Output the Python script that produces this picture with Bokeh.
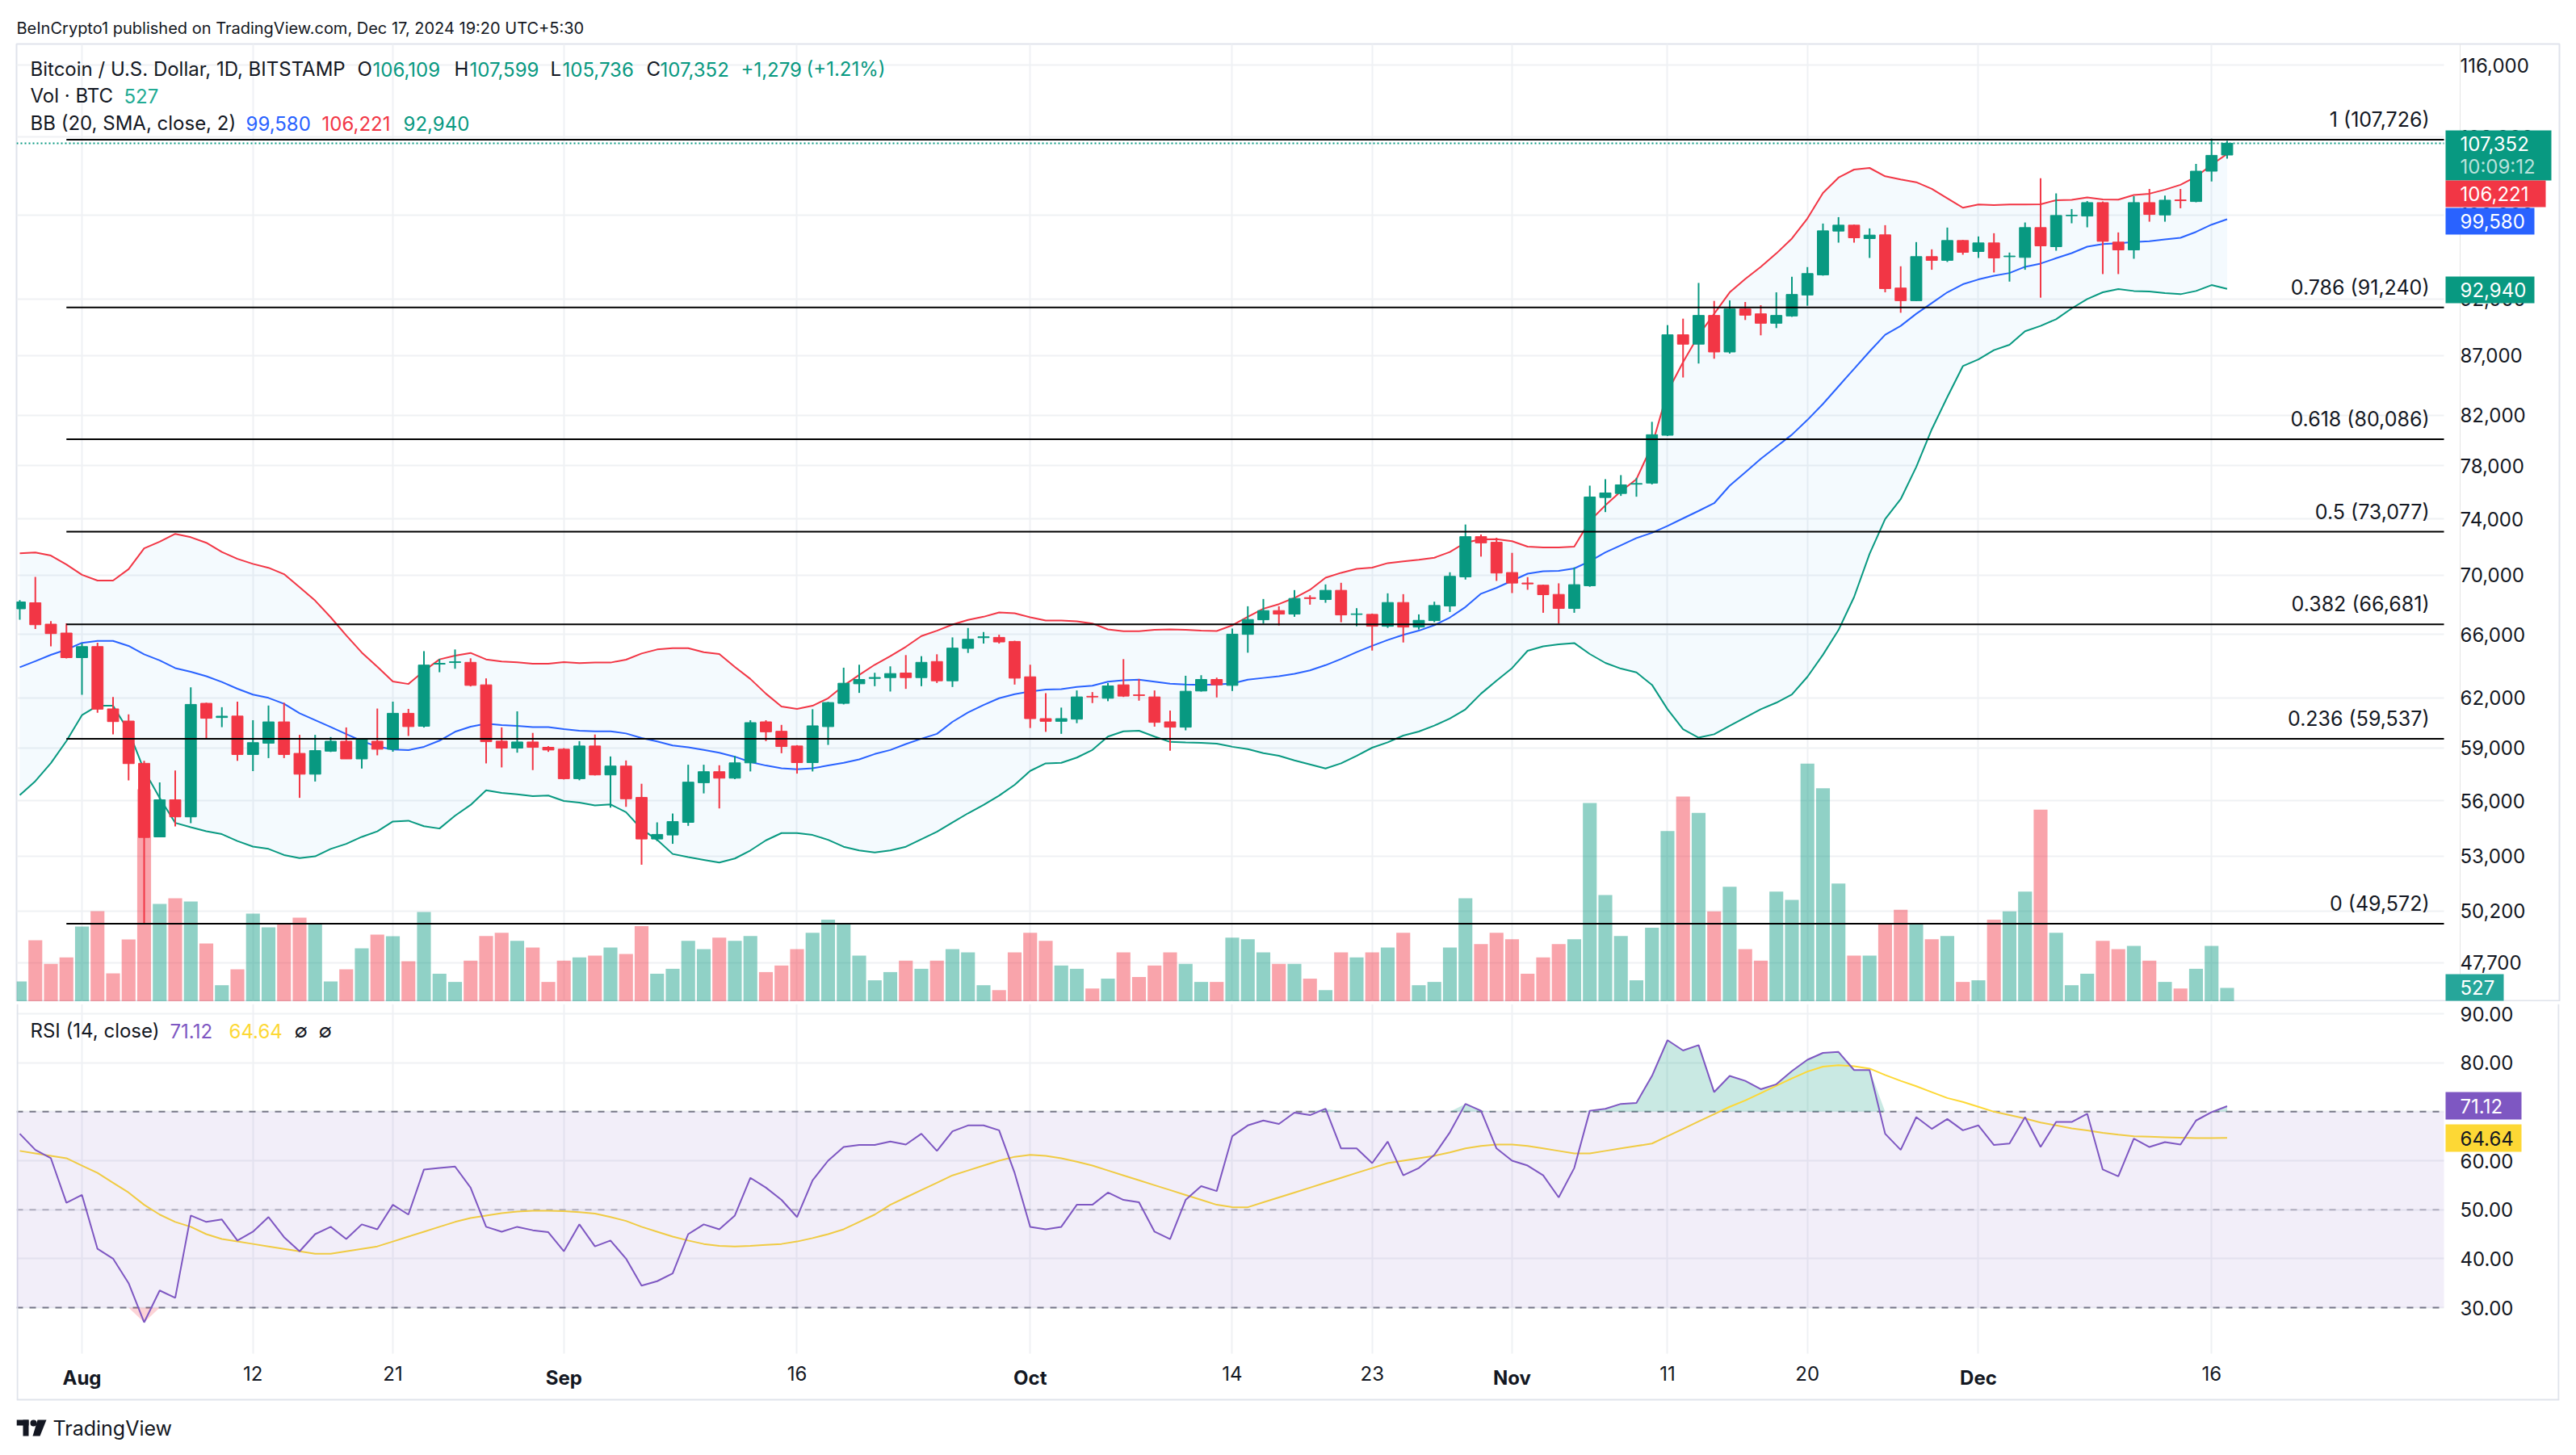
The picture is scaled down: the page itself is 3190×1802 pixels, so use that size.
import numpy as np
import pandas as pd
from bokeh.plotting import figure
from bokeh.layouts import column
from bokeh.models import (Range1d, LinearScale, FixedTicker, NumeralTickFormatter, DatetimeAxis,
                          BoxAnnotation, Grid, ColumnDataSource, CustomJSTickFormatter)
from bokeh.embed import file_html
from bokeh.resources import INLINE
from bokeh.core.properties import value

# ---------------- data ----------------
dates = pd.date_range("2024-07-28", "2024-12-17", freq="D")

open_ = [67710,68115,66687,66104,64514,65224,61322,60588,58104,54023,56044,55104,61661,60800,60888,58615,59274,60538,58679,57484,58808,59389,58358,59389,58922,61055,60280,
         64100,64200,64215,62800,59394,58987,59345,59034,58924,57228,59111,57442,57947,56175,53911,54126,54806,57001,57625,57258,58132,60541,59977,59111,58147,60254,
         61660,62865,63200,63250,63539,63250,64266,63049,65108,65800,65820,65558,63301,60734,60573,60702,62090,61971,62799,62180,62053,60541,60222,62418,63134,62766,
         66018,66978,67589,67355,68460,68333,68958,67330,67336,66549,68133,66496,66924,67897,69885,72722,72317,70185,69460,69309,68680,67733,69272,75596,75899,76600,
         76683,80402,88810,87989,90527,87312,91108,90672,89832,90479,92376,94237,98412,98990,97682,98046,93017,91862,95957,95600,
         97500,96444,97267,95950,95881,98754,96906,99920,99889,101227,97345,96598,101227,99996,101496,101334,104425,106109]
high_ = [68300,69880,66887,66741,65439,65475,62049,60986,58248,57020,57691,62649,61700,61425,61763,60638,61526,61695,59766,59766,59635,60206,59504,61342,61763,61322,64930,
         64437,65038,64471,63202,60209,61172,59881,59100,58987,59394,59786,58502,58269,56941,54806,55288,58024,58024,57993,58533,60638,60638,60358,59159,61301,61750,
         63875,64062,63555,63959,64677,64608,64728,65820,66434,66170,65994,65600,64062,62285,61401,62452,62352,62916,64419,63167,62452,61221,63367,63401,63250,66398,
         67879,68370,67879,68976,68626,69364,69475,67751,67390,68754,68699,67336,68188,70203,73602,72877,72645,71566,69866,69346,69439,70541,76490,76981,77290,77084,
         81478,89665,90239,93488,91838,91886,91740,91448,92623,94061,94967,99148,99782,99050,98675,98990,95042,97345,96649,98754,
         97550,97891,98203,96341,99254,103706,102146,100582,101388,101334,98282,101874,102609,101928,102609,105178,107840,107599]
low_ = [66980,66376,65242,64461,62186,61087,59799,57130,49572,54000,54584,54760,59520,60222,58248,57659,58406,58406,56152,57068,58759,58358,57804,58567,58775,59700,60200,
        63589,63808,62700,58101,57870,58721,57717,58768,57183,57138,57411,55611,55656,52555,53797,53654,54616,56400,55567,57200,57640,59394,58690,57518,57640,59174,
        61594,62302,62716,62385,62549,62716,62916,62666,64814,65419,65419,62816,60172,59945,59826,60461,61677,61791,62050,61824,60254,58835,60032,62380,62020,62418,
        64830,66728,66603,67175,67987,68115,66814,66549,64968,66443,65490,66336,66814,67498,69698,71299,69605,68772,68995,67444,66728,67444,69200,74513,75718,75657,
        76580,80338,85134,86319,86732,87173,90119,88763,89403,90400,91399,94162,97293,97293,95830,92623,90768,91813,94715,95448,
        96136,95830,94463,93612,94715,92132,96520,99174,98779,94312,94312,95754,99332,99332,100662,101253,103376,105736]
close_ = [68170,66650,66068,64514,65224,61305,60555,58088,53994,56044,55104,61594,60755,60880,58615,59307,60538,58615,57484,58840,59389,58358,59504,58922,61055,60256,64040,
          64150,64250,62766,59363,58987,59345,59034,58877,57228,59111,57442,57947,56101,53911,54155,54850,57031,57625,57258,58132,60493,59945,59080,58147,60301,61709,
          62899,63134,63260,63504,63250,64215,63049,65125,65697,65860,65523,63217,60734,60573,60734,62053,62050,62732,62103,62140,60510,60222,62401,63134,62799,66030,
          66995,67589,67355,68407,68400,68958,67300,67370,66549,68133,66496,66942,67933,69922,72722,72277,70148,69457,69400,68662,67733,69346,75636,75939,76550,76650,
          80445,88810,87989,90527,87312,91108,90551,89832,90527,92426,94361,98438,98990,97760,98021,92968,91862,95957,95600,97500,
          96366,97267,95830,96010,98754,96984,99942,99969,101227,97422,96598,101227,100048,101469,101420,104425,106073,107352]
volume_ = [775,2356,1450,1700,2883,3472,1085,2387,8153,3751,3968,3844,2232,630,1240,3379,2852,3007,3224,2976,775,1240,2046,2573,2511,1550,3441,
           1071,756,1575,2520,2646,2331,2079,756,1575,1701,1764,2079,1827,2898,1071,1260,2331,2016,2457,2331,2520,1134,1386,2016,2646,3150,
           3024,1764,819,1134,1575,1260,1575,2016,1890,630,441,1890,2646,2331,1386,1260,504,882,1890,945,1386,1890,1449,756,756,2457,
           2394,1890,1449,1449,882,441,1890,1701,1890,2079,2646,630,756,2079,3969,2205,2646,2394,1071,1701,2205,2394,7623,4095,2520,819,
           2835,6552,7875,7245,3465,4410,2016,1575,4221,3906,9135,8190,4536,1764,1764,2961,3528,2961,2394,2520,
           756,819,3150,3465,4221,7371,2646,630,1071,2331,2016,2142,1575,756,504,1260,2142,527]
bb_upper = [71540,71591,71374,70749,70031,69629,69629,70419,71888,72364,72924,72683,72285,71630,71141,70788,70516,70071,69170,68261,67143,65952,64838,63934,63007,62852,63671,
            64402,64643,64814,64402,64266,64215,64131,64131,64232,64164,64198,64198,64385,64779,65038,65125,65125,64865,64745,63925,63167,62252,61464,61318,61513,61971,
            62749,63419,64062,64608,65211,65907,66258,66663,66965,67178,67465,67411,67142,66929,66929,66876,66734,66346,66222,66222,66310,66346,66310,66258,66240,66610,
            67176,67716,68024,68443,68995,69829,70166,70447,70522,70844,70959,71074,71224,71624,72297,72529,72548,72394,72007,71949,71949,72007,73858,75012,76061,76981,
            79590,83940,86434,88764,90675,92623,93861,94994,96260,97685,99651,102200,103761,104592,104760,103900,103569,103293,102609,101657,
            100716,101036,100983,101036,101036,101063,101469,101496,101740,101550,101523,101986,102122,102532,103024,103845,105094,106221]
bb_mid = [63900,64286,64695,65031,65465,65588,65588,65266,64727,64338,63847,63619,63339,62975,62559,62198,61993,61634,61059,60643,60229,59816,59404,59079,58901,58867,59062,
          59425,59948,60254,60429,60351,60301,60222,60222,60109,60013,59977,59977,59849,59584,59380,59144,59034,58877,58721,58487,58178,57978,57824,57763,57824,57978,
          58132,58332,58643,58877,59224,59540,59826,60541,61107,61561,61971,62220,62385,62503,62536,62669,62749,63000,63084,63118,63000,62865,62816,62799,62816,62882,
          63123,63230,63339,63490,63706,64034,64428,64869,65270,65650,65988,66259,66623,67128,67828,68727,69133,69616,70103,70274,70299,70471,70967,71597,72106,72621,
          73000,73500,74050,74600,75171,76485,77508,78544,79497,80445,81631,82935,84389,85861,87357,88810,89593,90675,91642,92623,
          93364,93812,94162,94411,94994,95298,95803,96289,96905,97165,97242,97345,97422,97605,97758,98333,99043,99580]
bb_lower = [56300,57090,58114,59404,60942,61511,61511,60000,57700,56147,54778,54546,54322,54172,53800,53504,53386,53064,52904,52991,53386,53653,54025,54322,54853,54898,54600,
            54472,55169,55760,56579,56429,56354,56249,56279,55981,55893,55730,55789,55361,54442,53868,53118,52950,52810,52670,52880,53303,53840,54227,54227,54126,53868,
            53500,53300,53200,53300,53500,53900,54300,54800,55300,55760,56279,56880,57671,58101,58132,58437,58877,59664,59977,60013,59664,59349,59314,59297,59244,59065,
            58931,58696,58540,58274,58042,57810,58104,58540,59011,59327,59724,59963,60317,60737,61292,62252,63059,63850,64954,65239,65364,65453,64745,64178,63816,63578,
            62800,61300,60100,59600,59800,60300,60800,61300,61700,62200,63300,64700,66300,68500,71500,74000,75471,77917,80876,83499,
            86097,86666,87469,87936,89123,89593,90192,91157,92009,92623,92918,92746,92697,92549,92451,92746,93290,92940]
rsi_ = [65.5,62.2,60.5,51.4,53.0,42.0,40.0,35.0,27.0,33.5,32.0,48.8,47.5,48.0,43.7,45.5,48.5,44.4,41.5,45.0,46.5,44.0,47.0,46.0,51.0,49.0,58.2,
        58.5,58.8,54.5,46.5,45.5,46.5,45.8,45.4,41.5,47.0,42.5,43.7,40.0,34.5,35.4,37.0,45.0,47.0,46.0,48.8,56.5,54.5,52.0,48.5,56.0,60.0,
        62.8,63.2,63.2,63.9,63.3,65.5,62.0,66.0,67.2,67.2,66.2,57.5,46.5,46.0,46.5,51.0,51.0,53.5,52.0,51.5,45.5,44.0,52.0,54.8,53.8,65.0,
        67.2,68.2,67.5,69.8,69.3,70.6,62.5,62.5,59.5,63.9,57.0,58.5,61.2,65.8,71.6,70.2,62.5,60.0,59.0,57.0,52.5,58.5,70.2,70.6,71.6,71.8,
        77.3,84.6,82.5,83.6,74.0,77.3,76.3,74.6,75.6,78.3,80.6,82.0,82.2,78.5,78.5,65.5,62.2,68.9,66.5,68.5,
        66.2,67.2,63.2,63.5,68.9,62.8,67.9,67.9,69.6,58.2,56.8,64.5,62.8,63.8,63.3,68.2,69.9,71.12]
rsi_ma = [62.0,61.5,61.0,60.5,59.0,57.5,55.5,53.5,51.0,49.0,47.5,46.5,45.0,44.0,43.5,43.0,42.5,42.0,41.5,41.0,41.0,41.5,42.0,42.5,43.5,44.5,45.5,
          46.5,47.5,48.3,48.8,49.3,49.6,49.8,49.8,49.7,49.5,49.2,48.5,47.7,46.5,45.5,44.5,43.7,43.0,42.6,42.5,42.6,42.8,43.0,43.5,44.2,45.0,
          46.0,47.5,49.0,51.0,52.5,54.0,55.5,57.0,58.0,59.0,60.0,60.8,61.2,61.0,60.5,59.8,59.0,58.0,57.0,56.0,55.0,54.0,53.0,52.0,51.0,50.5,
          50.5,51.5,52.5,53.5,54.5,55.5,56.5,57.5,58.5,59.5,60.0,60.5,61.0,61.7,62.5,63.0,63.3,63.3,63.0,62.5,62.0,61.5,61.5,62.0,62.5,63.0,
          63.5,65.0,66.5,68.0,69.5,71.0,72.3,73.8,75.3,76.8,78.2,79.2,79.5,79.3,78.8,77.5,76.3,75.2,74.0,72.8,
          72.0,71.0,70.0,69.3,68.6,67.8,67.2,66.6,66.2,65.7,65.3,65.0,64.9,64.8,64.7,64.6,64.6,64.64]

fib_ratio = ["1", "0.786", "0.618", "0.5", "0.382", "0.236", "0"]
fib_price = [107726, 91240, 80086, 73077, 66681, 59537, 49572]
fib_start = "2024-07-31"

price_ticks = [116000, 108000, 100000, 92000, 87000, 82000, 78000, 74000, 70000, 66000,
               62000, 59000, 56000, 53000, 50200, 47700]
rsi_ticks = [30, 40, 50, 60, 70, 80, 90]
day_ticks = ["2024-08-12", "2024-08-21", "2024-09-16", "2024-10-14", "2024-10-23",
             "2024-11-11", "2024-11-20", "2024-12-16"]
month_ticks = ["2024-08-01", "2024-09-01", "2024-10-01", "2024-11-01", "2024-12-01"]
countdown = "10:09:12"
title_text = "BeInCrypto1 published on TradingView.com, Dec 17, 2024 19:20 UTC+5:30"

# ---------------- style / geometry ----------------
FONT = "Inter"
INK = "#131722"
GREEN = "#089981"
RED = "#F23645"
BLUE = "#2962FF"
PURPLE = "#7E57C2"
YELLOW = "#FDD835"
VOLTEAL = "#22AB94"
GRIDC = "#EFF1F4"
BORDER = "#E0E3EB"

DAY = 86400000.0
def ms(ts):
    return pd.Timestamp(ts).value / 1e6

LEFT, TOP = 20, 54
PLOT_R = 3026            # end of the chart area / start of the price scale
FRAME_R = 3169           # outer right border
FW = PLOT_R - LEFT
FWF = FRAME_R - LEFT
MAIN_BOT = 1240
FH_MAIN = MAIN_BOT - TOP
RSI_TOP, RSI_PANE_BOT, RSI_BOT = 1243, 1676, 1790
FH_RSI = RSI_BOT - RSI_TOP
TIME_BOT = 1733
TIME_LABEL_Y = 1705

AUG1 = ms("2024-08-01")
X0 = AUG1 - 4.208 * DAY
X1 = AUG1 + 151.95 * DAY
MS_PX = (X1 - X0) / FW
X1F = X0 + FWF * MS_PX
def xpx(px):
    return X0 + (px - LEFT) * MS_PX

def price_at(py):     # page pixel -> price (log scale, 1251 px per e-fold)
    return float(116000.0 * np.exp(-(py - 80) / 1251.0))
Y1, Y0 = price_at(TOP), price_at(MAIN_BOT)

def rsi_at(py):
    return 90.0 - (py - 1255) / 6.0667
R1, R0 = rsi_at(RSI_TOP), rsi_at(RSI_BOT)

o = np.array(open_, float); c = np.array(close_, float)
colors = [GREEN if u else RED for u in (c >= o)]
src = ColumnDataSource(dict(
    x=dates, o=o, h=high_, l=low_, c=c,
    top=np.maximum(o, c), bot=np.minimum(o, c), col=colors,
    vol=volume_, up=bb_upper, mid=bb_mid, lo=bb_lower,
    rsi=rsi_, ma=rsi_ma,
    ob=np.maximum(np.array(rsi_), 70.0), os=np.minimum(np.array(rsi_), 30.0),
))

xt = sorted([ms(t) for t in day_ticks + month_ticks])
x_range = Range1d(X0, X1F)

def style_axis(a, standoff, size="24px"):
    a.axis_line_color = None
    a.major_tick_line_color = None
    a.minor_tick_line_color = None
    a.major_tick_out = 0
    a.major_tick_in = 0
    a.minor_tick_out = 0
    a.major_label_standoff = standoff
    a.major_label_text_font = FONT
    a.major_label_text_font_size = size
    a.major_label_text_color = INK

def bound_grid(g, cross):
    try:
        g.cross_bounds = cross
    except Exception:
        pass

def scale_box(fig, yconv, x0, x1, y0, y1, bg, texts):
    fig.quad(left=[xpx(x0)], right=[xpx(x1)], top=[yconv(y0)], bottom=[yconv(y1)],
             fill_color=bg, line_color=None, level="overlay")
    for t, ty, tc, ta in texts:
        fig.text(x=[xpx(3046)], y=[yconv(ty)], text=[t], text_color=tc, text_alpha=ta,
                 text_align="left", text_baseline="middle", text_font=value(FONT),
                 text_font_size="24px", level="overlay")

# ---------------- main pane ----------------
p = figure(x_axis_type="datetime", y_axis_type="log", x_range=x_range, y_range=Range1d(Y0, Y1),
           frame_width=FWF, frame_height=FH_MAIN, min_border_left=LEFT, min_border_right=13,
           min_border_top=TOP, min_border_bottom=0, x_axis_location=None, y_axis_location="right",
           toolbar_location=None, output_backend="svg",
           outline_line_color=BORDER, outline_line_width=2, title=title_text)
p.title.align = "left"
p.title.text_font = FONT
p.title.text_font_size = "20px"
p.title.text_font_style = "normal"
p.title.text_color = INK
p.title.standoff = 16

p.extra_y_ranges = {"vol": Range1d(0, FH_MAIN * 31.0)}
p.extra_y_scales = {"vol": LinearScale()}

ax = p.yaxis[0]
ax.ticker = FixedTicker(ticks=price_ticks)
ax.formatter = NumeralTickFormatter(format="0,0")
style_axis(ax, 3046 - FRAME_R)
ax.major_label_text_align = "left"
p.ygrid.ticker = FixedTicker(ticks=price_ticks)
p.ygrid.grid_line_color = GRIDC
p.ygrid.grid_line_width = 2
bound_grid(p.ygrid[0], (X0, X1))
p.add_layout(Grid(dimension=0, ticker=FixedTicker(ticks=xt), grid_line_color=GRIDC, grid_line_width=2))

# volume
vsrc = ColumnDataSource(dict(x=dates, vol=volume_, col=colors))
p.vbar(x="x", top="vol", bottom=0, width=0.89 * DAY, fill_color="col", fill_alpha=0.45,
       line_color=None, y_range_name="vol", source=vsrc)

# Bollinger bands
p.varea(x="x", y1="lo", y2="up", fill_color="#2196F3", fill_alpha=0.05, source=src)
p.line(x="x", y="up", line_color=RED, line_width=2, source=src)
p.line(x="x", y="mid", line_color=BLUE, line_width=2, source=src)
p.line(x="x", y="lo", line_color=GREEN, line_width=2, source=src)

# candles
p.segment(x0="x", y0="l", x1="x", y1="h", line_color="col", line_width=2, source=src)
p.vbar(x="x", top="top", bottom="bot", width=0.72 * DAY, fill_color="col", line_color="col",
       line_width=1, source=src)

# fib retracement
fs = ms(fib_start)
p.segment(x0=[fs] * len(fib_price), y0=fib_price, x1=[X1] * len(fib_price), y1=fib_price,
          line_color="#000000", line_width=2)
p.text(x=[X1] * len(fib_price), y=fib_price,
       text=[f"{r} ({v:,})" for r, v in zip(fib_ratio, fib_price)],
       text_align="right", text_baseline="bottom", x_offset=-18, y_offset=-10,
       text_font=value(FONT), text_font_size="25px", text_color=INK)

# last price line (dotted)
p.segment(x0=[X0], y0=[close_[-1]], x1=[X1], y1=[close_[-1]], line_color=GREEN,
          line_width=2, line_dash="2 3")

# legend texts
chg = close_[-1] - close_[-2]
pct = chg / close_[-2] * 100
legend = [
    ("Bitcoin / U.S. Dollar, 1D, BITSTAMP", 37, 85, INK),
    ("O", 442, 85, INK), (f"{open_[-1]:,}", 461, 85, GREEN),
    ("H", 562, 85, INK), (f"{high_[-1]:,}", 581, 85, GREEN),
    ("L", 681, 85, INK), (f"{low_[-1]:,}", 696, 85, GREEN),
    ("C", 800, 85, INK), (f"{close_[-1]:,}", 817, 85, GREEN),
    (f"{chg:+,}", 917, 85, GREEN), (f"({pct:+.2f}%)", 998, 85, GREEN),
    ("Vol · BTC", 37, 118, INK), (f"{volume_[-1]:,}", 153, 118, VOLTEAL),
    ("BB (20, SMA, close, 2)", 37, 152, INK),
    (f"{bb_mid[-1]:,}", 304, 152, BLUE), (f"{bb_upper[-1]:,}", 398, 152, RED),
    (f"{bb_lower[-1]:,}", 499, 152, GREEN),
]
p.text(x=[X0] * len(legend), y=[Y1] * len(legend), text=[t[0] for t in legend],
       x_offset=[t[1] - LEFT for t in legend], y_offset=[t[2] - TOP for t in legend],
       text_color=[t[3] for t in legend], text_baseline="middle", text_align="left",
       text_font=value(FONT), text_font_size="24px")

# value boxes on the price scale
scale_box(p, price_at, 3028, 3159, 161, 223, GREEN,
          [(f"{close_[-1]:,}", 177, "white", 1.0), (countdown, 206, "white", 0.72)])
scale_box(p, price_at, 3028, 3152, 223, 256, RED, [(f"{bb_upper[-1]:,}", 239.5, "white", 1.0)])
scale_box(p, price_at, 3028, 3138, 257, 290, BLUE, [(f"{bb_mid[-1]:,}", 273.5, "white", 1.0)])
scale_box(p, price_at, 3028, 3138, 342, 375, GREEN, [(f"{bb_lower[-1]:,}", 358.5, "white", 1.0)])
scale_box(p, price_at, 3028, 3100, 1206, 1239, "#26A69A", [(f"{volume_[-1]:,}", 1222.5, "white", 1.0)])

# ---------------- RSI pane ----------------
r = figure(x_axis_type="datetime", x_range=x_range, y_range=Range1d(R0, R1),
           frame_width=FWF, frame_height=FH_RSI, min_border_left=LEFT, min_border_right=13,
           min_border_top=RSI_TOP - MAIN_BOT, min_border_bottom=6, y_axis_location="right",
           toolbar_location=None, output_backend="svg", outline_line_color=None)
ry = r.yaxis[0]
ry.ticker = FixedTicker(ticks=rsi_ticks)
ry.formatter = NumeralTickFormatter(format="0.00")
style_axis(ry, 3046 - FRAME_R)
ry.major_label_text_align = "left"

date_fmt = CustomJSTickFormatter(code="""
const d = new Date(tick);
const m = ["Jan","Feb","Mar","Apr","May","Jun","Jul","Aug","Sep","Oct","Nov","Dec"];
return d.getUTCDate() === 1 ? m[d.getUTCMonth()] : String(d.getUTCDate());
""")
# day numbers (regular weight) and month names (bold), both on the same time-scale line
rx = r.xaxis[0]
rx.ticker = FixedTicker(ticks=[ms(t) for t in day_ticks])
rx.formatter = date_fmt
style_axis(rx, TIME_LABEL_Y - 14 - RSI_BOT)
mx = DatetimeAxis(ticker=FixedTicker(ticks=[ms(t) for t in month_ticks]), formatter=date_fmt)
style_axis(mx, TIME_LABEL_Y - 14 - RSI_BOT)
mx.major_label_text_font_style = "bold"
mx.fixed_location = R0
rx.fixed_location = R0
r.add_layout(mx, "below")

r.ygrid.ticker = FixedTicker(ticks=rsi_ticks)
r.ygrid.grid_line_color = GRIDC
r.ygrid.grid_line_width = 2
bound_grid(r.ygrid[0], (X0, X1))
for g in r.xgrid:
    g.visible = False
vgrid = Grid(dimension=0, ticker=FixedTicker(ticks=xt), grid_line_color=GRIDC, grid_line_width=2)
bound_grid(vgrid, (rsi_at(RSI_PANE_BOT), R1))
r.add_layout(vgrid)

r.add_layout(BoxAnnotation(left=X0, right=X1, bottom=30, top=70, fill_color=PURPLE,
                           fill_alpha=0.1, line_color=None))
r.segment(x0=[X0] * 3, y0=[70, 50, 30], x1=[X1] * 3, y1=[70, 50, 30], line_color="#787B86",
          line_alpha=[1.0, 0.5, 1.0], line_width=2, line_dash="8 8")
r.varea(x="x", y1=70, y2="ob", fill_color=GREEN, fill_alpha=0.22, source=src)
r.varea(x="x", y1="os", y2=30, fill_color=RED, fill_alpha=0.22, source=src)
r.line(x="x", y="ma", line_color=YELLOW, line_width=2, source=src)
r.line(x="x", y="rsi", line_color=PURPLE, line_width=2, source=src)

rsi_legend = [("RSI (14, close)", 37, INK), (f"{rsi_[-1]:.2f}", 210, PURPLE),
              (f"{rsi_ma[-1]:.2f}", 283, YELLOW), ("∅", 364, INK), ("∅", 394, INK)]
r.text(x=[X0] * len(rsi_legend), y=[R1] * len(rsi_legend), text=[t[0] for t in rsi_legend],
       x_offset=[t[1] - LEFT for t in rsi_legend], y_offset=[1276 - RSI_TOP] * len(rsi_legend),
       text_color=[t[2] for t in rsi_legend], text_baseline="middle", text_align="left",
       text_font=value(FONT), text_font_size="24px")

scale_box(r, rsi_at, 3028, 3122, 1352, 1386, PURPLE, [(f"{rsi_[-1]:.2f}", 1369, "white", 1.0)])
scale_box(r, rsi_at, 3028, 3122, 1392, 1426, YELLOW, [(f"{rsi_ma[-1]:.2f}", 1409, INK, 1.0)])

# outer border of the chart around the RSI pane and time scale
r.segment(x0=[xpx(21), xpx(FRAME_R - 1), xpx(LEFT)],
          y0=[R1, R1, rsi_at(TIME_BOT)],
          x1=[xpx(21), xpx(FRAME_R - 1), xpx(FRAME_R)],
          y1=[rsi_at(TIME_BOT), rsi_at(TIME_BOT), rsi_at(TIME_BOT)],
          line_color=BORDER, line_width=2)

# TradingView logo + wordmark
r.quad(left=[xpx(20), xpx(28)], right=[xpx(35), xpx(35)],
       top=[rsi_at(1758), rsi_at(1758)], bottom=[rsi_at(1765), rsi_at(1778)],
       fill_color=INK, line_color=None)
r.scatter(x=[xpx(41)], y=[rsi_at(1762)], size=8, marker="circle", fill_color=INK, line_color=None)
r.patch(x=[xpx(46), xpx(57), xpx(49), xpx(40)], y=[rsi_at(1758), rsi_at(1758), rsi_at(1778), rsi_at(1778)],
        fill_color=INK, line_color=None)
r.text(x=[xpx(65)], y=[rsi_at(1768)], text=["TradingView"], text_align="left",
       text_baseline="middle", text_font=value(FONT), text_font_size="25px", text_color=INK)

layout = column(p, r, spacing=0)
open("out.html", "w").write(file_html(layout, INLINE))
